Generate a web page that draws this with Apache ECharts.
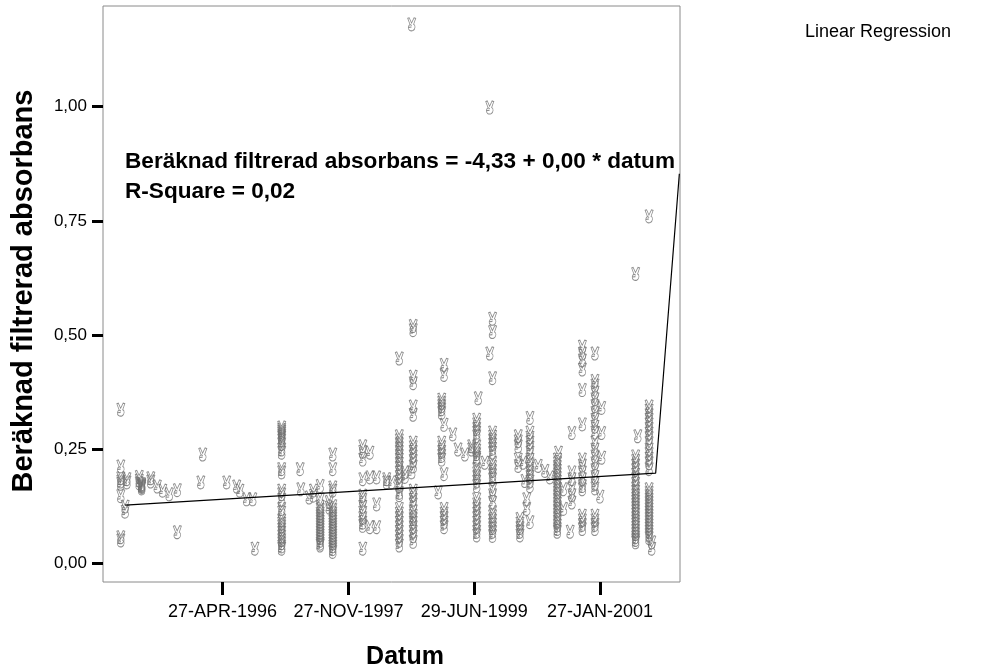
<!DOCTYPE html>
<html>
<head>
<meta charset="utf-8">
<script src="https://cdn.jsdelivr.net/npm/echarts@6/dist/echarts.min.js"></script>
<style>
html,body{margin:0;padding:0;background:#fff;}
#chart{width:989px;height:672px;}
</style>
</head>
<body>
<div id="chart"></div>
<script>
// ---- Data ----
const sampleDates = [
  '1995-01-15','1995-02-04','1995-02-12','1995-04-10','1995-04-21','1995-06-02','1995-07-02','1995-07-27',
  '1995-08-26','1995-10-02','1996-01-18','1996-01-27','1996-05-16','1996-07-01','1996-07-16','1996-08-16',
  '1996-09-13','1996-09-23','1997-01-24','1997-04-19','1997-04-22','1997-05-31','1997-06-19','1997-07-20',
  '1997-08-31','1997-09-16','1998-02-01','1998-03-06','1998-04-06','1998-05-22','1998-06-14','1998-07-19',
  '1998-08-14','1998-09-14','1998-09-21','1999-01-14','1999-01-30','1999-02-10','1999-03-22','1999-04-15',
  '1999-05-17','1999-06-17','1999-07-10','1999-07-17','1999-08-17','1999-09-08','1999-09-21','2000-01-17',
  '2000-01-25','2000-02-09','2000-02-17','2000-02-25','2000-03-11','2000-04-18','2000-05-19','2000-06-11',
  '2000-07-15','2000-07-20','2000-08-12','2000-09-12','2000-09-20','2000-11-07','2001-01-04','2001-01-27',
  '2001-02-04','2001-07-10','2001-07-20','2001-09-10','2001-09-22'
];
const sampleValues = [
  [0.337,0.213,0.187,0.180,0.175,0.148,0.051,0.058],
  [0.114,0.125],
  [0.185,0.178],
  [0.190,0.182,0.176],
  [0.174,0.170,0.165,0.172,0.168],
  [0.187,0.180],
  [0.169],
  [0.160],
  [0.152],
  [0.161,0.069],
  [0.178],
  [0.239],
  [0.178],
  [0.169],
  [0.160],
  [0.141],
  [0.141],
  [0.033],
  [0.298,0.293,0.289,0.285,0.280,0.276,0.270,0.262,0.250,0.243,0.207,0.200,0.160,0.152,0.140,0.120,0.112,0.095,0.088,0.082,0.075,0.068,0.060,0.052,0.045,0.038,0.033],
  [0.207],
  [0.163],
  [0.145],
  [0.149,0.160],
  [0.170,0.141,0.125,0.118,0.110,0.104,0.098,0.092,0.086,0.080,0.074,0.068,0.062,0.056,0.050,0.044,0.040],
  [0.123,0.135],
  [0.239,0.207,0.167,0.160,0.126,0.118,0.110,0.104,0.098,0.092,0.086,0.080,0.074,0.068,0.062,0.056,0.050,0.044,0.038,0.032,0.026],
  [0.257,0.245,0.228,0.185,0.149,0.140,0.125,0.112,0.100,0.090,0.083,0.033],
  [0.243,0.189,0.080],
  [0.189,0.130,0.080],
  [0.178,0.185],
  [0.178],
  [0.449,0.279,0.270,0.262,0.253,0.245,0.236,0.228,0.219,0.210,0.200,0.190,0.180,0.170,0.155,0.150,0.120,0.110,0.100,0.090,0.080,0.070,0.060,0.050,0.040],
  [0.200,0.190],
  [0.200,1.180],
  [0.520,0.511,0.409,0.395,0.344,0.326,0.265,0.255,0.245,0.235,0.225,0.213,0.160,0.150,0.140,0.130,0.115,0.105,0.098,0.090,0.080,0.070,0.060,0.048],
  [0.156],
  [0.359,0.352,0.345,0.338,0.330,0.265,0.255,0.245,0.236,0.228],
  [0.435,0.413,0.304,0.196,0.120,0.110,0.100,0.090,0.080],
  [0.283],
  [0.250],
  [0.239],
  [0.257,0.250],
  [0.315,0.305,0.295,0.287,0.279,0.257,0.248,0.240,0.232,0.228,0.207,0.198,0.190,0.180,0.170,0.141,0.130,0.120,0.110,0.100,0.090,0.080,0.070,0.062],
  [0.362],
  [0.221],
  [0.460,0.998],
  [0.536,0.507,0.406,0.287,0.278,0.270,0.261,0.252,0.243,0.221,0.212,0.203,0.194,0.185,0.163,0.150,0.134,0.113,0.104,0.095,0.086,0.078,0.070,0.061],
  [0.279,0.268,0.257,0.228,0.214],
  [0.098,0.088,0.078,0.070,0.062],
  [0.221],
  [0.181],
  [0.141,0.120],
  [0.319,0.287,0.276,0.265,0.254,0.243,0.228,0.218,0.208,0.199,0.190,0.180,0.170,0.091],
  [0.214],
  [0.203],
  [0.189],
  [0.228,0.220,0.212,0.204,0.196,0.188,0.180,0.172,0.164,0.156,0.148,0.140,0.132,0.124,0.116,0.108,0.100,0.092,0.084,0.076,0.070],
  [0.243],
  [0.163,0.120],
  [0.070],
  [0.286,0.200,0.185,0.165,0.150,0.134],
  [0.475,0.460,0.445,0.425,0.380,0.305,0.228,0.215,0.200,0.185,0.170,0.163,0.105,0.095,0.085,0.076],
  [0.460,0.400,0.390,0.375,0.360,0.345,0.330,0.315,0.300,0.287,0.265,0.250,0.235,0.220,0.205,0.190,0.175,0.165,0.105,0.095,0.085,0.076],
  [0.147],
  [0.341,0.286,0.232],
  [0.634,0.235,0.225,0.215,0.205,0.195,0.185,0.175,0.165,0.158,0.150,0.143,0.136,0.129,0.122,0.115,0.108,0.100,0.093,0.086,0.079,0.072,0.065,0.058,0.052,0.047],
  [0.279],
  [0.760,0.344,0.335,0.325,0.315,0.305,0.295,0.285,0.275,0.264,0.250,0.240,0.230,0.220,0.207,0.163,0.155,0.148,0.140,0.133,0.126,0.119,0.112,0.105,0.098,0.091,0.084,0.077,0.070,0.063,0.056],
  [0.047,0.033]
];
// Regression fit line as drawn in the reference
const fitDates = ['1995-02-04','2001-10-10','2002-01-27'];
const fitValues = [0.128, 0.198, 0.853];

const xTickDates = ['1996-04-27','1997-11-27','1999-06-29','2001-01-27'];
const yTickValues = [0, 0.25, 0.5, 0.75, 1.0];
const xRange = ['1994-10-25','2002-01-30'];
const yRange = [-0.04, 1.22];

const titleY = 'Beräknad filtrerad absorbans';
const titleX = 'Datum';
const fitText1 = 'Beräknad filtrerad absorbans = -4,33 + 0,00 * datum';
const fitText2 = 'R-Square = 0,02';
const legendText = 'Linear Regression';

// ---- Build ----
const MONTHS = ['JAN','FEB','MAR','APR','MAY','JUN','JUL','AUG','SEP','OCT','NOV','DEC'];
const ts = s => Date.parse(s + 'T00:00:00Z');
function fmtDate(v){
  const d = new Date(v);
  const dd = String(d.getUTCDate()).padStart(2,'0');
  return dd + '-' + MONTHS[d.getUTCMonth()] + '-' + d.getUTCFullYear();
}
const points = [];
sampleDates.forEach((d,i) => sampleValues[i].forEach(v => points.push([ts(d), v])));
const fitData = fitDates.map((d,i) => [ts(d), fitValues[i]]);

const FONT = 'Arial, "Liberation Sans", sans-serif';
const handPath = 'path://M1,1 L2.6,0.3 L5,6.5 L7.6,0.3 L9.4,1 L7.2,8 C9.2,9 9.4,13.5 6.5,15.3 C3.8,16.5 1.2,14.5 1.6,11.5 C1.8,10 2.6,8.8 3.4,8.3 Z M2,11.6 L5,11.2 M3.4,8.3 L5.2,9.4';

const chart = echarts.init(document.getElementById('chart'), null, {renderer:'canvas'});
chart.setOption({
  animation: false,
  backgroundColor: '#ffffff',
  grid: {left: 103, right: 309, top: 6, bottom: 90, show: true, borderColor: '#8a8a8a', borderWidth: 1, backgroundColor: 'transparent'},
  xAxis: {
    type: 'value',
    min: ts(xRange[0]), max: ts(xRange[1]),
    axisLine: {show: false, onZero: false},
    splitLine: {show: false},
    axisTick: {show: true, inside: false, length: 13, customValues: xTickDates.map(ts), lineStyle: {color: '#000', width: 3}},
    axisLabel: {show: true, margin: 21, customValues: xTickDates.map(ts), formatter: fmtDate, color: '#000', fontSize: 18, fontFamily: FONT}
  },
  yAxis: {
    type: 'value',
    min: yRange[0], max: yRange[1],
    axisLine: {show: false, onZero: false},
    splitLine: {show: false},
    axisTick: {show: true, inside: false, length: 11, customValues: yTickValues, lineStyle: {color: '#000', width: 3}},
    axisLabel: {show: true, margin: 16, customValues: yTickValues, formatter: v => v.toFixed(2).replace('.', ','), color: '#000', fontSize: 17, fontFamily: FONT}
  },
  series: [
    {
      type: 'scatter',
      data: points,
      symbol: handPath,
      symbolSize: [8, 13],
      silent: true,
      itemStyle: {color: 'rgba(0,0,0,0)', borderColor: '#707070', borderWidth: 0.9}
    },
    {
      type: 'line',
      data: fitData,
      showSymbol: false,
      symbol: 'none',
      silent: true,
      lineStyle: {color: '#000', width: 1.2}
    }
  ],
  graphic: [
    {type: 'text', x: 24, y: 291, rotation: Math.PI/2,
      style: {text: titleY, fontSize: 29, fontWeight: 'bold', fontFamily: FONT, fill: '#000', align: 'center', verticalAlign: 'middle'}},
    {type: 'text', x: 405, y: 657,
      style: {text: titleX, fontSize: 25, fontWeight: 'bold', fontFamily: FONT, fill: '#000', align: 'center', verticalAlign: 'middle'}},
    {type: 'text', x: 125, y: 162,
      style: {text: fitText1, fontSize: 22.6, fontWeight: 'bold', fontFamily: FONT, fill: '#000', align: 'left', verticalAlign: 'middle'}},
    {type: 'text', x: 125, y: 192,
      style: {text: fitText2, fontSize: 22.6, fontWeight: 'bold', fontFamily: FONT, fill: '#000', align: 'left', verticalAlign: 'middle'}},
    {type: 'text', x: 805, y: 32,
      style: {text: legendText, fontSize: 18, fontFamily: FONT, fill: '#000', align: 'left', verticalAlign: 'middle'}}
  ]
});
</script>
</body>
</html>
